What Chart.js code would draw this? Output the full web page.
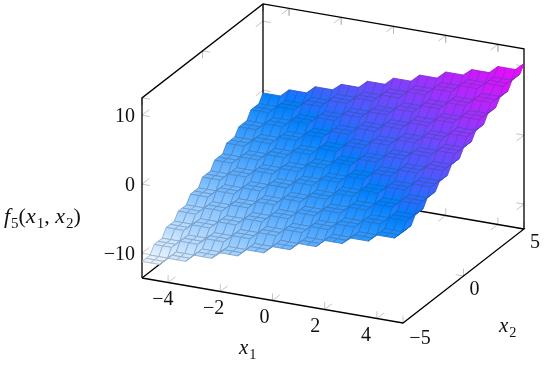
<!DOCTYPE html>
<html>
<head>
<meta charset="utf-8">
<style>
    html, body { margin: 0; padding: 0; background: #fff; }
    canvas { display: block; }
</style>
<script src="https://cdn.jsdelivr.net/npm/chart.js@4/dist/chart.umd.js"></script>
</head>
<body>
<canvas id="surface-chart" width="550" height="366"></canvas>
<script>
const x1Values = [-5, -4.67, -4.33, -4, -3.67, -3.33, -3, -2.67, -2.33, -2, -1.67, -1.33, -1, -0.67, -0.33, 0, 0.33, 0.67, 1, 1.33, 1.67, 2, 2.33, 2.67, 3, 3.33, 3.67, 4, 4.33, 4.67, 5];
const x2Values = [-5, -4.67, -4.33, -4, -3.67, -3.33, -3, -2.67, -2.33, -2, -1.67, -1.33, -1, -0.67, -0.33, 0, 0.33, 0.67, 1, 1.33, 1.67, 2, 2.33, 2.67, 3, 3.33, 3.67, 4, 4.33, 4.67, 5];

// height of the surface, one row per step level of x2
const row0 = [-11.2, -11.2, -11.2, -10.1, -10.1, -10.1, -9, -9, -9, -8, -8, -8, -6.9, -6.9, -6.9, -5.8, -5.8, -5.8, -4.7, -4.7, -4.7, -3.6, -3.6, -3.6, -2.6, -2.6, -2.6, -1.5, -1.5, -1.5, -0.4];
const row1 = [-10.1, -10.1, -10.1, -9, -9, -9, -8, -8, -8, -6.9, -6.9, -6.9, -5.8, -5.8, -5.8, -4.7, -4.7, -4.7, -3.6, -3.6, -3.6, -2.6, -2.6, -2.6, -1.5, -1.5, -1.5, -0.4, -0.4, -0.4, 0.7];
const row2 = [-9, -9, -9, -8, -8, -8, -6.9, -6.9, -6.9, -5.8, -5.8, -5.8, -4.7, -4.7, -4.7, -3.6, -3.6, -3.6, -2.6, -2.6, -2.6, -1.5, -1.5, -1.5, -0.4, -0.4, -0.4, 0.7, 0.7, 0.7, 1.8];
const row3 = [-8, -8, -8, -6.9, -6.9, -6.9, -5.8, -5.8, -5.8, -4.7, -4.7, -4.7, -3.6, -3.6, -3.6, -2.6, -2.6, -2.6, -1.5, -1.5, -1.5, -0.4, -0.4, -0.4, 0.7, 0.7, 0.7, 1.8, 1.8, 1.8, 2.8];
const row4 = [-6.9, -6.9, -6.9, -5.8, -5.8, -5.8, -4.7, -4.7, -4.7, -3.6, -3.6, -3.6, -2.6, -2.6, -2.6, -1.5, -1.5, -1.5, -0.4, -0.4, -0.4, 0.7, 0.7, 0.7, 1.8, 1.8, 1.8, 2.8, 2.8, 2.8, 3.9];
const row5 = [-5.8, -5.8, -5.8, -4.7, -4.7, -4.7, -3.6, -3.6, -3.6, -2.6, -2.6, -2.6, -1.5, -1.5, -1.5, -0.4, -0.4, -0.4, 0.7, 0.7, 0.7, 1.8, 1.8, 1.8, 2.8, 2.8, 2.8, 3.9, 3.9, 3.9, 5];
const row6 = [-4.7, -4.7, -4.7, -3.6, -3.6, -3.6, -2.6, -2.6, -2.6, -1.5, -1.5, -1.5, -0.4, -0.4, -0.4, 0.7, 0.7, 0.7, 1.8, 1.8, 1.8, 2.8, 2.8, 2.8, 3.9, 3.9, 3.9, 5, 5, 5, 6.1];
const row7 = [-3.6, -3.6, -3.6, -2.6, -2.6, -2.6, -1.5, -1.5, -1.5, -0.4, -0.4, -0.4, 0.7, 0.7, 0.7, 1.8, 1.8, 1.8, 2.8, 2.8, 2.8, 3.9, 3.9, 3.9, 5, 5, 5, 6.1, 6.1, 6.1, 7.2];
const row8 = [-2.6, -2.6, -2.6, -1.5, -1.5, -1.5, -0.4, -0.4, -0.4, 0.7, 0.7, 0.7, 1.8, 1.8, 1.8, 2.8, 2.8, 2.8, 3.9, 3.9, 3.9, 5, 5, 5, 6.1, 6.1, 6.1, 7.2, 7.2, 7.2, 8.2];
const row9 = [-1.5, -1.5, -1.5, -0.4, -0.4, -0.4, 0.7, 0.7, 0.7, 1.8, 1.8, 1.8, 2.8, 2.8, 2.8, 3.9, 3.9, 3.9, 5, 5, 5, 6.1, 6.1, 6.1, 7.2, 7.2, 7.2, 8.2, 8.2, 8.2, 9.3];
const row10 = [-0.4, -0.4, -0.4, 0.7, 0.7, 0.7, 1.8, 1.8, 1.8, 2.8, 2.8, 2.8, 3.9, 3.9, 3.9, 5, 5, 5, 6.1, 6.1, 6.1, 7.2, 7.2, 7.2, 8.2, 8.2, 8.2, 9.3, 9.3, 9.3, 10.4];
const surfaceRows = [row0, row0, row0, row1, row1, row1, row2, row2, row2, row3, row3, row3, row4, row4, row4, row5, row5, row5, row6, row6, row6, row7, row7, row7, row8, row8, row8, row9, row9, row9, row10];

const x1Limits = [-5, 5];
const x2Limits = [-5, 5];
const zLimits = [-13.6, 12.5];
const x1Ticks = [-4, -2, 0, 2, 4];
const x2Ticks = [-5, 0, 5];
const zTicks = [-10, 0, 10];

const FONT = '"Liberation Serif", serif';
const zMin = -11.2;
const zMax = 10.4;
const canvas = document.getElementById('surface-chart');

// the view of the pgfplots box: each data unit along an axis moves this far on screen
function project(x1, x2, z) {
    return {
        x: 333 + x1 * 26.1 + x2 * 12.1,
        y: 253.5 + x1 * 4.5 - x2 * 9.4 - (z - zLimits[0]) * 6.9
    };
}

function mix(a, b, t) {
    return a.map((v, i) => v + (b[i] - v) * t);
}

function surfaceColor(z) {
    const t = (z - zMin) / (zMax - zMin);
    return t < 0.5 ? mix([228, 242, 255], [0, 128, 255], t * 2) : mix([0, 128, 255], [255, 0, 255], Math.pow(t * 2 - 1, 0.85));
}

function css(rgb) {
    return `rgb(${rgb.map(Math.round).join(',')})`;
}

function polyline(corners, color, width) {
    return {
        data: corners.map(c => project(c[0], c[1], c[2])),
        showLine: true,
        fill: false,
        borderColor: color,
        borderWidth: width,
        pointRadius: 0,
        tension: 0,
        clip: false
    };
}

// shade a cell from its lowest corner to its highest, like the interp shader
function cellFill(corners) {
    const sorted = [...corners].sort((a, b) => a[2] - b[2]);
    const low = sorted[0];
    const high = sorted[sorted.length - 1];
    if (low[2] === high[2]) {
        return css(surfaceColor(low[2]));
    }
    const a = project(low[0], low[1], low[2]);
    const b = project(high[0], high[1], high[2]);
    const gradient = canvas.getContext('2d').createLinearGradient(a.x, a.y, b.x, b.y);
    gradient.addColorStop(0, css(surfaceColor(low[2])));
    gradient.addColorStop(1, css(surfaceColor(high[2])));
    return gradient;
}

/**
 * Build one filled dataset per surface cell, painted from back to front
 *
 * @returns {Array} line datasets
 */
function surfaceDatasets() {
    const cells = [];
    for (let j = x2Values.length - 2; j >= 0; j--) {
        for (let i = 0; i < x1Values.length - 1; i++) {
            const corners = [
                [x1Values[i], x2Values[j], surfaceRows[j][i]],
                [x1Values[i + 1], x2Values[j], surfaceRows[j][i + 1]],
                [x1Values[i + 1], x2Values[j + 1], surfaceRows[j + 1][i + 1]],
                [x1Values[i], x2Values[j + 1], surfaceRows[j + 1][i]],
                [x1Values[i], x2Values[j], surfaceRows[j][i]]
            ];
            const mean = (corners[0][2] + corners[1][2] + corners[2][2] + corners[3][2]) / 4;
            const cell = polyline(corners, css(mix(surfaceColor(mean), [40, 60, 90], 0.34)), 0.85);
            cell.fill = 'shape';
            cell.backgroundColor = cellFill(corners.slice(0, 4));
            cells.push(cell);
        }
    }
    return cells;
}

function boxDatasets() {
    const [a1, b1] = x1Limits;
    const [a2, b2] = x2Limits;
    const [lo, hi] = zLimits;
    return [
        polyline([[a1, a2, lo], [b1, a2, lo], [b1, b2, lo], [a1, b2, lo], [a1, a2, lo]], '#000', 1.3),
        polyline([[a1, a2, lo], [a1, a2, hi], [a1, b2, hi], [b1, b2, hi], [b1, b2, lo]], '#000', 1.3),
        polyline([[a1, b2, hi], [a1, b2, lo]], '#000', 1.3)
    ];
}

function tickDatasets() {
    const [a1, b1] = x1Limits;
    const [a2, b2] = x2Limits;
    const [lo, hi] = zLimits;
    const d1 = 0.3, d2 = 0.6, dz = 1.05;
    const grey = '#bdbdbd';
    const out = [];
    const arms = (p, q, r) => out.push(polyline([q, p, r], grey, 0.9));
    x1Ticks.forEach(t => {
        arms([t, a2, lo], [t, a2 + d2, lo], [t, a2, lo + dz]);
        arms([t, b2, lo], [t, b2 - d2, lo], [t, b2, lo + dz]);
        arms([t, b2, hi], [t, b2 - d2, hi], [t, b2, hi - dz]);
    });
    x2Ticks.forEach(t => {
        arms([b1, t, lo], [b1 - d1, t, lo], [b1, t, lo + dz]);
        arms([a1, t, hi], [a1 + d1, t, hi], [a1, t, hi - dz]);
    });
    zTicks.forEach(t => {
        arms([a1, a2, t], [a1 + d1, a2, t], [a1, a2 + d2, t]);
        arms([a1, b2, t], [a1 + d1, b2, t], [a1, b2 - d2, t]);
        arms([b1, b2, t], [b1 - d1, b2, t], [b1, b2 - d2, t]);
    });
    return out;
}

function tickText(value) {
    return value < 0 ? '\u2212' + Math.abs(value) : String(value);
}

// text runs as [string, italic, subscript]
function drawRuns(ctx, runs, x, y, size) {
    runs.forEach(run => {
        const small = run[2];
        ctx.font = `${run[1] ? 'italic ' : ''}${small ? size * 0.68 : size}px ${FONT}`;
        ctx.fillText(run[0], x, small ? y + size * 0.22 : y);
        x += ctx.measureText(run[0]).width + (run[1] && !small ? 1 : 0);
    });
}

const labelsPlugin = {
    id: 'axisLabels',
    afterDraw(chart) {
        const ctx = chart.ctx;
        const [a1, b1] = x1Limits;
        const [a2, b2] = x2Limits;
        const [lo] = zLimits;
        ctx.save();
        ctx.fillStyle = '#111';
        ctx.textBaseline = 'middle';
        ctx.font = `20px ${FONT}`;

        ctx.textAlign = 'center';
        x1Ticks.forEach(t => {
            const p = project(t, a2, lo);
            ctx.fillText(tickText(t), p.x - 8 - t * 0.7, p.y + 17);
        });
        x2Ticks.forEach(t => {
            const p = project(b1, t, lo);
            ctx.fillText(tickText(t), p.x + (t < 0 ? 17 : 11), p.y + (t < 0 ? 16 : 14));
        });
        ctx.textAlign = 'right';
        zTicks.forEach(t => {
            const p = project(a1, a2, t);
            ctx.fillText(tickText(t), p.x - 7, p.y + 2);
        });

        ctx.textAlign = 'left';
        ctx.textBaseline = 'alphabetic';
        drawRuns(ctx, [['x', true, false], ['1', false, true]], 239, 354, 21);
        drawRuns(ctx, [['x', true, false], ['2', false, true]], 499, 332, 21);
        drawRuns(ctx, [['f', true, false], ['5', false, true], ['(', false, false], ['x', true, false], ['1', false, true], [', ', false, false], ['x', true, false], ['2', false, true], [')', false, false]], 4, 223, 22);
        ctx.restore();
    }
};

const datasets = [...tickDatasets(), ...boxDatasets(), ...surfaceDatasets()].reverse();

new Chart(canvas, {
    type: 'scatter',
    data: { datasets: datasets },
    options: {
        responsive: false,
        animation: false,
        events: [],
        layout: { padding: 0 },
        plugins: { legend: { display: false }, tooltip: { enabled: false } },
        scales: {
            x: { type: 'linear', min: 0, max: 550, display: false },
            y: { type: 'linear', min: 0, max: 366, reverse: true, display: false }
        }
    },
    plugins: [labelsPlugin]
});
</script>
</body>
</html>
